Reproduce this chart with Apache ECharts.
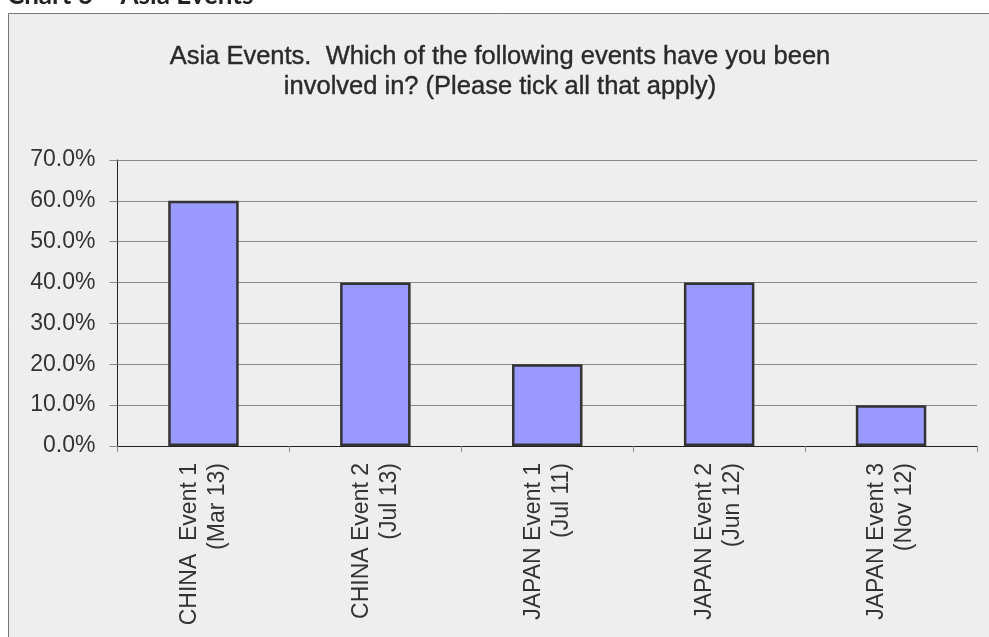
<!DOCTYPE html>
<html>
<head>
<meta charset="utf-8">
<script src="https://cdn.jsdelivr.net/npm/echarts@6/dist/echarts.min.js"></script>
<style>
  html, body { margin: 0; padding: 0; background: #ffffff; }
  #chart { width: 989px; height: 637px; }
</style>
</head>
<body>
<div id="chart"></div>
<script>
// Survey responses for Asia events
const categories = [
  'CHINA  Event 1\n(Mar 13)',
  'CHINA Event 2\n(Jul 13)',
  'JAPAN Event 1\n(Jul 11)',
  'JAPAN Event 2\n(Jun 12)',
  'JAPAN Event 3\n(Nov 12)'
];
const shares = [60, 40, 20, 40, 10];
const yTicks = [0, 10, 20, 30, 40, 50, 60, 70];

const chart = echarts.init(document.getElementById('chart'), null, { renderer: 'canvas' });

chart.setOption({
  backgroundColor: '#ffffff',
  animation: false,
  graphic: [
    {
      type: 'rect',
      z: -10,
      shape: { x: 8.5, y: 13.5, width: 1000, height: 700 },
      style: { fill: '#eeeeee', stroke: '#777777', lineWidth: 1 }
    },
    {
      type: 'text',
      left: 7,
      top: -17,
      style: {
        text: 'Chart 6 \u2013 Asia Events',
        font: 'bold 26px Lato, "Open Sans", sans-serif',
        fill: '#222222'
      }
    }
  ],
  title: {
    text: 'Asia Events.  Which of the following events have you been\ninvolved in? (Please tick all that apply)',
    left: 495,
    textAlign: 'center',
    top: 37,
    textStyle: {
      fontFamily: '"Liberation Sans", Arial, sans-serif',
      fontWeight: 'normal',
      fontSize: 25.5,
      lineHeight: 30,
      color: '#2a2a2a',
      textBorderColor: '#2a2a2a',
      textBorderWidth: 0.4
    }
  },
  grid: { left: 117.5, right: 12, top: 160, bottom: 191, containLabel: false },
  xAxis: {
    type: 'category',
    data: categories,
    axisLine: { lineStyle: { color: '#222222', width: 1 } },
    axisTick: { show: true, length: 6, alignWithLabel: false, lineStyle: { color: '#888888' } },
    axisLabel: {
      rotate: 90,
      interval: 0,
      margin: 17,
      fontFamily: '"Liberation Sans", Arial, sans-serif',
      fontSize: 23,
      lineHeight: 28,
      color: '#333333',
      align: 'right',
      verticalAlign: 'middle'
    }
  },
  yAxis: {
    type: 'value',
    min: 0,
    max: 70,
    interval: 10,
    axisLine: { show: true, lineStyle: { color: '#222222', width: 1 } },
    axisTick: { show: true, length: 8, lineStyle: { color: '#888888' } },
    splitLine: { show: true, lineStyle: { color: '#888888', width: 1 } },
    axisLabel: {
      margin: 22,
      fontFamily: '"Liberation Sans", Arial, sans-serif',
      fontSize: 23,
      color: '#333333',
      formatter: v => yTicks.includes(v) ? v.toFixed(1) + '%' : ''
    }
  },
  series: [{
    type: 'bar',
    data: shares,
    barWidth: '41%',
    itemStyle: { color: '#9999ff', borderColor: '#333333', borderWidth: 2.5 }
  }]
});
</script>
</body>
</html>
